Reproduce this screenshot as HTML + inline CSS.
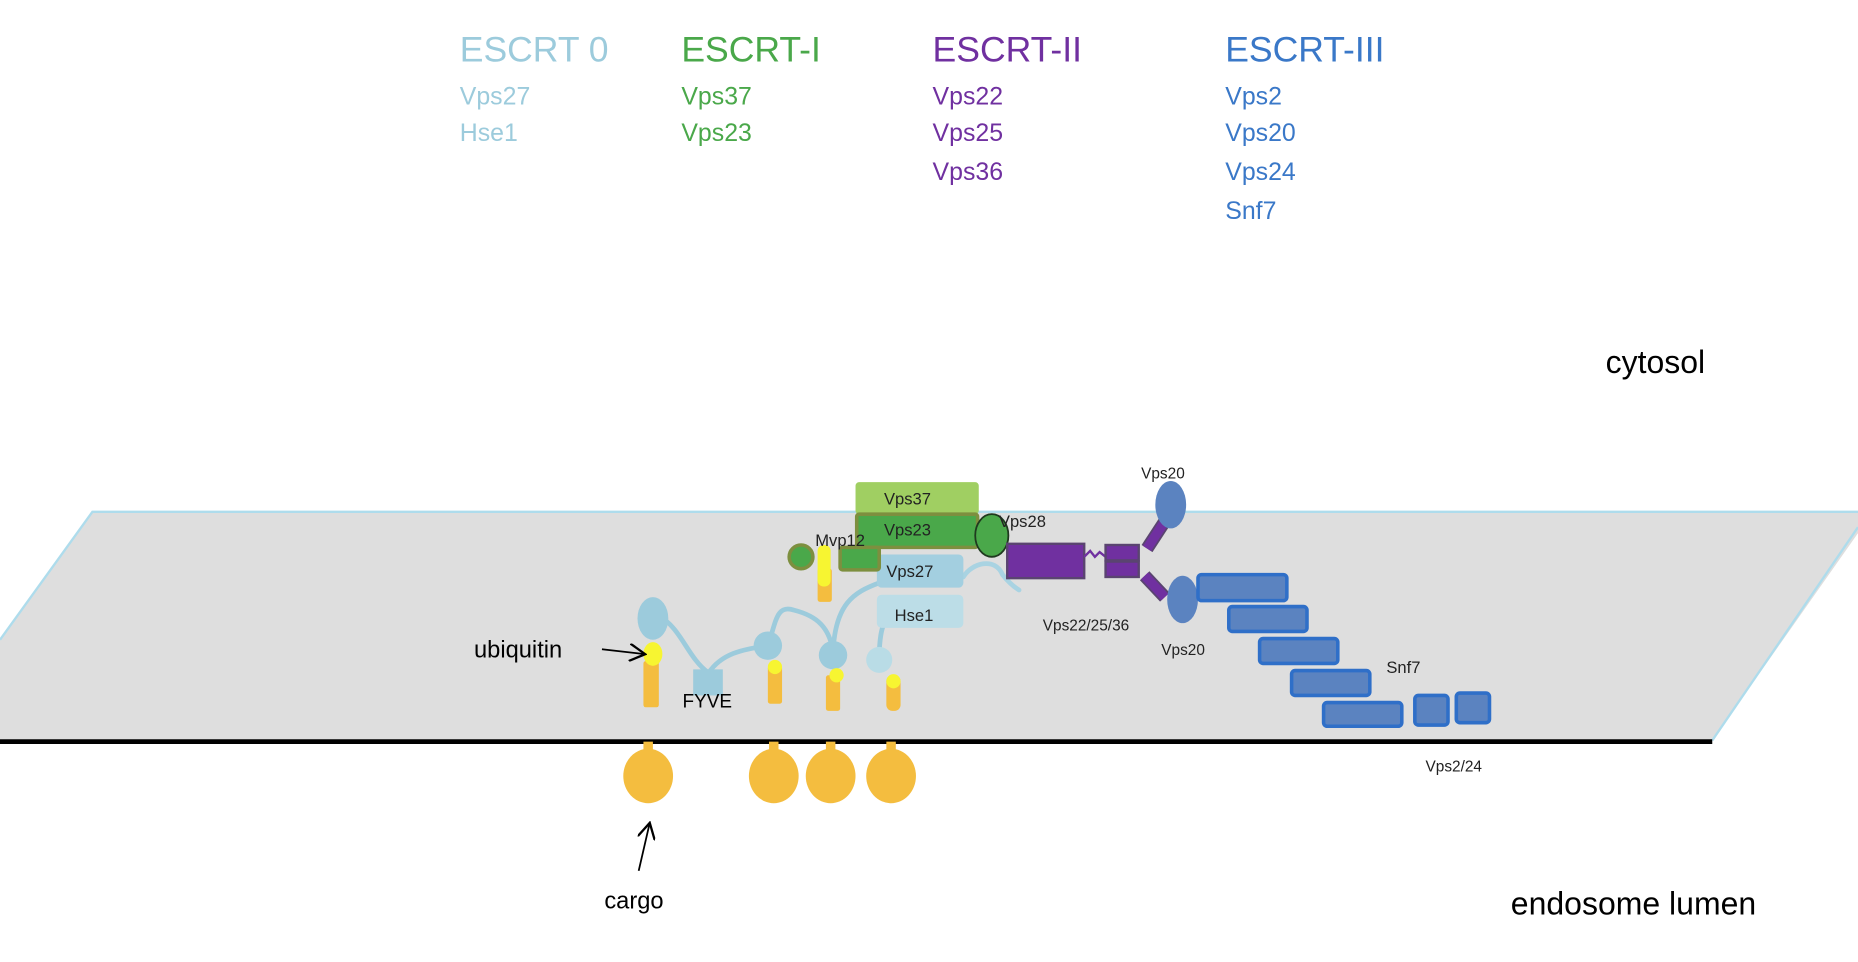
<!DOCTYPE html>
<html><head><meta charset="utf-8"><style>
html,body{margin:0;padding:0;background:#fff;width:1858px;height:962px;overflow:hidden}
svg{display:block}
text{font-family:"Liberation Sans",sans-serif}
</style></head><body>
<svg width="1858" height="962" viewBox="0 0 1568 812" preserveAspectRatio="none">
<defs><marker id="ah" markerWidth="10" markerHeight="10" refX="8" refY="5" orient="auto"><path d="M0,0 L9,5 L0,10" fill="none" stroke="#000" stroke-width="1.3"/></marker></defs>
<!-- headers -->
<g font-size="30">
<text x="388" y="52" fill="#9ccbdc">ESCRT 0</text>
<text x="575" y="52" fill="#4aa84a">ESCRT-I</text>
<text x="787" y="52" fill="#7030a0">ESCRT-II</text>
<text x="1034" y="52" fill="#3a78c8">ESCRT-III</text>
</g>
<g font-size="21">
<text x="388" y="88" fill="#9ccbdc">Vps27</text><text x="388" y="119" fill="#9ccbdc">Hse1</text>
<text x="575" y="88" fill="#4aa84a">Vps37</text><text x="575" y="119" fill="#4aa84a">Vps23</text>
<text x="787" y="88" fill="#7030a0">Vps22</text><text x="787" y="119" fill="#7030a0">Vps25</text><text x="787" y="152" fill="#7030a0">Vps36</text>
<text x="1034" y="88" fill="#3a78c8">Vps2</text><text x="1034" y="119" fill="#3a78c8">Vps20</text><text x="1034" y="152" fill="#3a78c8">Vps24</text><text x="1034" y="185" fill="#3a78c8">Snf7</text>
</g>
<text x="1355" y="315" font-size="27" fill="#000">cytosol</text>
<text x="1275" y="772" font-size="27" fill="#000">endosome lumen</text>
<!-- plane -->
<polygon points="78,432 1575,432 1575,440 1445,625 -60,625 0,540" fill="#dedede"/>
<polyline points="0,540 78,432 1575,432" fill="none" stroke="#aedcec" stroke-width="2"/>
<line x1="1568" y1="445" x2="1445" y2="625" stroke="#aedcec" stroke-width="2"/>
<line x1="0" y1="626" x2="1445" y2="626" stroke="#000" stroke-width="4"/>
<!-- cargo below -->
<g fill="#f4bd3f">
<rect x="543" y="626" width="8" height="16"/><ellipse cx="547" cy="655" rx="21" ry="23"/>
<rect x="649" y="626" width="8" height="16"/><ellipse cx="653" cy="655" rx="21" ry="23"/>
<rect x="697" y="626" width="8" height="16"/><ellipse cx="701" cy="655" rx="21" ry="23"/>
<rect x="748" y="626" width="8" height="16"/><ellipse cx="752" cy="655" rx="21" ry="23"/>
</g>
<!-- lipid stalks -->
<g fill="#f4bd3f">
<rect x="543" y="558" width="13" height="39" rx="2"/>
<rect x="648" y="562" width="12" height="32" rx="2"/>
<rect x="697" y="570" width="12" height="30" rx="2"/>
<rect x="748" y="570" width="12" height="30" rx="5"/>
<rect x="690" y="480" width="12" height="28" rx="2"/>
</g>
<!-- light blue connectors -->
<g fill="none" stroke="#9ccbdc" stroke-width="4" stroke-linecap="round">
<path d="M556,520 C575,530 580,555 598,568"/>
<path d="M598,568 C610,550 630,548 648,545"/>
<path d="M648,545 C655,525 655,510 670,515 C690,520 700,530 703,550"/>
<path d="M703,550 C705,510 720,500 742,492"/>
<path d="M742,556 C742,535 745,525 750,520"/>
<path d="M813,487 C820,475 840,470 846,485 C850,490 855,495 860,498" stroke="#a9d3e2"/>
</g>
<ellipse cx="551" cy="522" rx="13" ry="18" fill="#9ccbdc"/>
<ellipse cx="551" cy="552" rx="8" ry="10" fill="#f7f531"/>
<rect x="585" y="565" width="25" height="22" fill="#9ccbdc"/>
<text x="576" y="597" font-size="16" fill="#000">FYVE</text>
<circle cx="648" cy="545" r="12" fill="#9ccbdc"/><circle cx="654" cy="563" r="6" fill="#f7f531"/>
<circle cx="703" cy="553" r="12" fill="#9ccbdc"/><circle cx="706" cy="570" r="6" fill="#f7f531"/>
<circle cx="742" cy="557" r="11" fill="#b9dce6"/><circle cx="754" cy="575" r="6" fill="#f7f531"/>
<text x="400" y="555" font-size="20" fill="#000">ubiquitin</text>
<line x1="508" y1="548" x2="543" y2="552" stroke="#000" stroke-width="1.5" marker-end="url(#ah)"/>
<text x="510" y="767" font-size="20" fill="#000">cargo</text>
<line x1="539" y1="735" x2="548" y2="696" stroke="#000" stroke-width="1.5" marker-end="url(#ah)"/>
<!-- ESCRT-0 boxes -->
<rect x="740" y="468" width="73" height="28" rx="4" fill="#a3cfe0"/>
<text x="748" y="487" font-size="14" fill="#222">Vps27</text>
<rect x="740" y="502" width="73" height="28" rx="4" fill="#bcdde7"/>
<text x="755" y="524" font-size="14" fill="#222">Hse1</text>
<!-- ESCRT-I -->
<rect x="722" y="407" width="104" height="27" rx="3" fill="#a0cf62"/>
<text x="746" y="426" font-size="14" fill="#222">Vps37</text>
<rect x="723" y="434" width="102" height="28" rx="2" fill="#4aa84a" stroke="#7d8f3f" stroke-width="3"/>
<text x="746" y="452" font-size="14" fill="#222">Vps23</text>
<circle cx="676" cy="470" r="10" fill="#4aa84a" stroke="#7d8f3f" stroke-width="3"/>
<rect x="709" y="462" width="33" height="19" rx="2" fill="#4aa84a" stroke="#7d8f3f" stroke-width="3"/>
<rect x="690" y="460" width="11" height="35" rx="5" fill="#f7f531"/>
<text x="688" y="461" font-size="14" fill="#222">Mvp12</text>
<ellipse cx="837" cy="452" rx="14" ry="18" fill="#4aa84a" stroke="#1f3a1f" stroke-width="1.5"/>
<text x="843" y="445" font-size="14" fill="#222">Vps28</text>
<!-- ESCRT-II -->
<rect x="850" y="459" width="65" height="29" fill="#7030a0" stroke="#5a4470" stroke-width="2"/>
<path d="M915,470 L920,465 L924,470 L928,466 L933,470" fill="none" stroke="#7030a0" stroke-width="2"/>
<rect x="933" y="460" width="28" height="13" fill="#7030a0" stroke="#5a4470" stroke-width="2"/>
<rect x="933" y="474" width="28" height="13" fill="#7030a0" stroke="#5a4470" stroke-width="2"/>
<line x1="968" y1="463" x2="983" y2="440" stroke="#5a4470" stroke-width="11"/>
<line x1="968" y1="463" x2="983" y2="440" stroke="#7030a0" stroke-width="8"/>
<line x1="966" y1="486" x2="983" y2="504" stroke="#5a4470" stroke-width="11"/>
<line x1="966" y1="486" x2="983" y2="504" stroke="#7030a0" stroke-width="8"/>
<ellipse cx="988" cy="426" rx="13" ry="20" fill="#5b83c0"/>
<ellipse cx="998" cy="506" rx="13" ry="20" fill="#5b83c0"/>
<text x="963" y="404" font-size="13" fill="#222">Vps20</text>
<text x="880" y="532" font-size="13" fill="#222">Vps22/25/36</text>
<text x="980" y="553" font-size="13" fill="#222">Vps20</text>
<!-- ESCRT-III -->
<g fill="#5b83c0" stroke="#2f6fc8" stroke-width="3">
<rect x="1011" y="485" width="75" height="22" rx="3"/>
<rect x="1037" y="512" width="66" height="21" rx="3"/>
<rect x="1063" y="539" width="66" height="21" rx="3"/>
<rect x="1090" y="566" width="66" height="21" rx="3"/>
<rect x="1117" y="593" width="66" height="20" rx="3"/>
<rect x="1194" y="587" width="28" height="25" rx="3"/>
<rect x="1229" y="585" width="28" height="25" rx="3"/>
</g>
<text x="1170" y="568" font-size="14" fill="#222">Snf7</text>
<text x="1203" y="651" font-size="13" fill="#222">Vps2/24</text>
</svg>
</body></html>
